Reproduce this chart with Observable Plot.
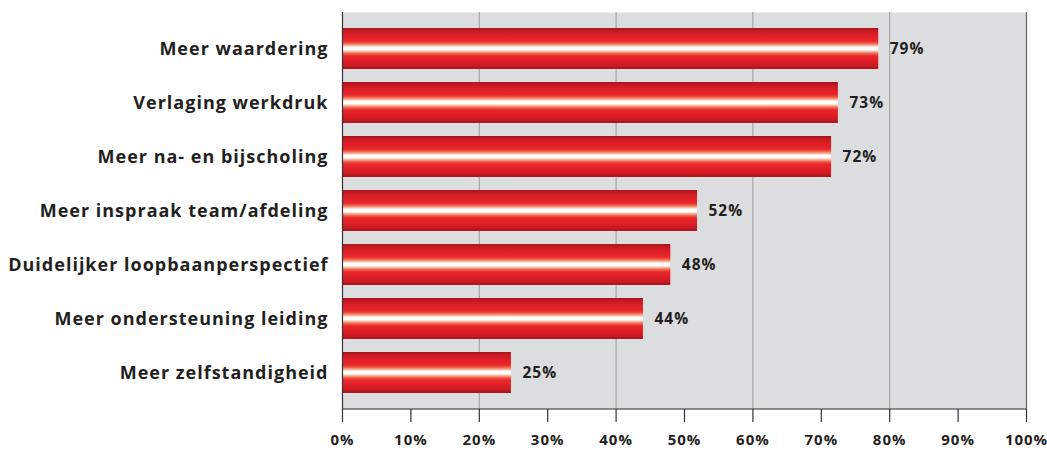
<!DOCTYPE html>
<html>
<head>
<meta charset="utf-8">
<script src="https://cdn.jsdelivr.net/npm/d3@7"></script>
<script src="https://cdn.jsdelivr.net/npm/@observablehq/plot@0.6"></script>
<style>
  html, body { margin: 0; padding: 0; background: #fff; }
  #chart svg { display: block; }
</style>
</head>
<body>
<div id="chart"></div>
<script>
const categories = [
  "Meer waardering",
  "Verlaging werkdruk",
  "Meer na- en bijscholing",
  "Meer inspraak team/afdeling",
  "Duidelijker loopbaanperspectief",
  "Meer ondersteuning leiding",
  "Meer zelfstandigheid"
];
const values = [78.4, 72.5, 71.5, 51.9, 48.0, 44.0, 24.7];
const valueLabels = ["79%", "73%", "72%", "52%", "48%", "44%", "25%"];
const xTicks = [0, 10, 20, 30, 40, 50, 60, 70, 80, 90, 100];
const gridValues = [20, 40, 60, 80];

const data = categories.map((c, i) => ({category: c, value: values[i], label: valueLabels[i]}));

function gradientDefs() {
  const ns = "http://www.w3.org/2000/svg";
  const defs = document.createElementNS(ns, "defs");
  const lg = document.createElementNS(ns, "linearGradient");
  lg.setAttribute("id", "barGrad");
  lg.setAttribute("x1", "0"); lg.setAttribute("y1", "0");
  lg.setAttribute("x2", "0"); lg.setAttribute("y2", "1");
  const stops = [
    [0, "#a8161c"], [0.08, "#c81b22"], [0.2, "#e21f27"], [0.32, "#e8282c"],
    [0.38, "#f06a4f"], [0.43, "#f8bba3"], [0.47, "#ffffff"], [0.53, "#ffffff"], [0.57, "#f8bba3"],
    [0.62, "#f06a4f"], [0.68, "#e8282c"], [0.8, "#e21f27"], [0.92, "#c81b22"], [1, "#a8161c"]
  ];
  for (const [o, c] of stops) {
    const s = document.createElementNS(ns, "stop");
    s.setAttribute("offset", o);
    s.setAttribute("stop-color", c);
    lg.appendChild(s);
  }
  defs.appendChild(lg);
  return defs;
}

const font = "'Open Sans', 'DejaVu Sans', sans-serif";

const chart = Plot.plot({
  width: 1047,
  height: 452,
  marginLeft: 342,
  marginRight: 21,
  marginTop: 12,
  marginBottom: 43,
  style: {fontFamily: font, color: "#231f20", background: "#fff", overflow: "visible"},
  x: {domain: [0, 100], axis: null},
  y: {domain: categories, axis: null, paddingInner: 0.232, paddingOuter: 0.247},
  marks: [
    gradientDefs,
    Plot.frame({fill: "#dcdddf", stroke: null}),
    Plot.ruleX(gridValues, {stroke: "#9a9a9a", strokeWidth: 1}),
    Plot.ruleX([100], {stroke: "#666", strokeWidth: 1.2}),
    Plot.barX(data, {x: "value", y: "category", fill: "url(#barGrad)"}),
    Plot.ruleX([0], {stroke: "#333", strokeWidth: 1.2}),
    Plot.axisX({
      ticks: xTicks, tickSize: 13, tickPadding: 12, tickFormat: d => d + "%", label: null,
      fontSize: 15, fontWeight: "bold", stroke: "#333", strokeWidth: 1.2
    }),
    Plot.axisY({
      tickSize: 0, tickPadding: 14, fontSize: 18, fontWeight: "bold", label: null
    }),
    Plot.text(data, {x: "value", y: "category", text: "label", dx: 11, textAnchor: "start",
      fontSize: 15.5, fontWeight: "bold", fill: "#231f20"})
  ]
});

const ns = "http://www.w3.org/2000/svg";
const line = document.createElementNS(ns, "line");
line.setAttribute("x1", 342); line.setAttribute("x2", 1026);
line.setAttribute("y1", 409); line.setAttribute("y2", 409);
line.setAttribute("stroke", "#333"); line.setAttribute("stroke-width", 1.2);
chart.appendChild(line);

// letter spacing for the humanist bold look
chart.querySelectorAll("text").forEach(t => t.setAttribute("letter-spacing", "1px"));

document.getElementById("chart").appendChild(chart);
</script>
</body>
</html>
